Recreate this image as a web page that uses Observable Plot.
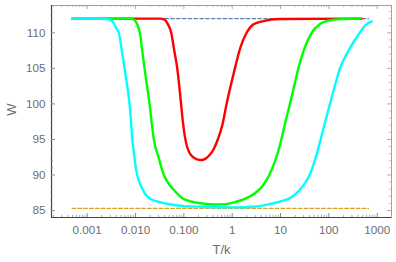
<!DOCTYPE html>
<html>
<head>
<meta charset="utf-8">
<script src="https://cdn.jsdelivr.net/npm/d3@7"></script>
<script src="https://cdn.jsdelivr.net/npm/@observablehq/plot@0.6"></script>
<style>
  html, body { margin: 0; padding: 0; background: #fff; }
</style>
</head>
<body>
<div id="chart"></div>
<script>
// ---- data ----
const cyanT = [0.000489, 0.001884, 0.002512, 0.003034, 0.003508, 0.004046, 0.004508, 0.005129, 0.005916, 0.00673,
  0.007516, 0.008072, 0.008551, 0.009226, 0.01, 0.01084, 0.01211, 0.01377, 0.01535, 0.01746,
  0.02143, 0.02812, 0.04178, 0.07295, 0.2218, 1.0, 3.199, 7.096, 10, 15.67,
  21.53, 29.38, 40.64, 53.83, 67.61, 76.91, 105.4, 132.4, 169.8, 271.6,
  434.5, 582.1, 769.1];
const cyanW = [112, 112, 111.95, 111.8, 111.4, 110.6, 110, 107.8, 105, 102.5,
  100, 97.5, 95, 93.2, 91.3, 90, 88.9, 88.1, 87.5, 87.0,
  86.55, 86.27, 86.0, 85.71, 85.53, 85.45, 85.57, 86.03, 86.3, 86.74,
  87.44, 88.5, 90.1, 92.5, 95, 96.5, 100, 102.5, 105, 107.8,
  110, 111.1, 111.6];

const greenT = [0.000489, 0.00787, 0.009528, 0.01099, 0.01227, 0.01377, 0.01535, 0.0173, 0.0195, 0.02143,
  0.02393, 0.02992, 0.03855, 0.04819, 0.06209, 0.09268, 0.1377, 0.2218, 0.4529, 0.7295,
  1.175, 1.986, 3.048, 4.406, 5.861, 7.551, 9.727, 12.16, 15.67, 19.14,
  23.39, 30.83, 44.06, 64.57, 105.4, 193.2, 455];
const greenW = [112, 112, 111.8, 111.1, 110, 107.5, 105, 102.5, 100, 97.5,
  95, 92.5, 90, 88.8, 87.9, 86.74, 86.3, 86.03, 85.85, 85.9,
  86.2, 86.74, 87.5, 88.6, 90, 91.8, 94.2, 97, 100, 102.5,
  105, 107.7, 110, 111.2, 111.75, 111.93, 112];

const redT = [0.000489, 0.03296, 0.03981, 0.04592, 0.05483, 0.06324, 0.07295, 0.08035, 0.0875, 0.09528,
  0.105, 0.1164, 0.1312, 0.1552, 0.1875, 0.2291, 0.2812, 0.3404, 0.4178, 0.5105,
  0.6237, 0.7656, 0.9268, 1.138, 1.459, 1.986, 2.773, 4.406, 9.572, 477.5];
const redW = [112, 112, 111.85, 111.3, 110, 107.5, 105, 102.5, 100, 97.5,
  95.4, 94.0, 93.1, 92.5, 92.2, 92.1, 92.3, 92.8, 93.7, 95.1,
  97.0, 100, 102.5, 105, 107.8, 110, 111.2, 111.65, 111.95, 112];

const dashT = [0.000489, 658];
const upperW = 112;
const lowerW = 85.3;

const xTicks = [0.001, 0.01, 0.1, 1, 10, 100, 1000];
const xTickLabels = ["0.001", "0.010", "0.100", "1", "10", "100", "1000"];
const yTicks = [85, 90, 95, 100, 105, 110];
const xLabel = "T/k";
const yLabel = "W";

// ---- layout ----
const W = 396, H = 262;
const mL = 51, mR = 5, mT = 5, mB = 45;
const innerW = W - mL - mR, innerH = H - mT - mB;
const xDomain = [0.0001825, 1977];
const yDomain = [84.02, 113.84];

const table = (T, Wv) => T.map((t, i) => ({T: t, W: Wv[i]}));
const cyan = table(cyanT, cyanW);
const green = table(greenT, greenW);
const red = table(redT, redW);
const upper = dashT.map(t => ({T: t, W: upperW}));
const lower = dashT.map(t => ({T: t, W: lowerW}));

// minor ticks (axis decoration)
const xMinor = [];
for (let e = -4; e <= 3; e++) for (let m = 2; m <= 9; m++) {
  const v = m * Math.pow(10, e);
  if (v > xDomain[0] && v < xDomain[1]) xMinor.push(v);
}
const yMinor = [];
for (let v = 85; v <= 113; v++) if (v % 5 !== 0) yMinor.push(v);

const tickColor = "#8a8a8a";
const major = 4, minor = 2.2;
const xFmt = d => xTickLabels[xTicks.findIndex(t => Math.abs(t - d) / t < 1e-6)];

const chart = Plot.plot({
  width: W, height: H,
  marginLeft: mL, marginRight: mR, marginTop: mT, marginBottom: mB,
  style: {background: "#fff", fontFamily: "'Liberation Sans', Arial, sans-serif"},
  x: {type: "log", domain: xDomain},
  y: {domain: yDomain},
  marks: [
    // frame
    Plot.frame({stroke: "#a0a0a0", strokeWidth: 1}),
    Plot.ruleX([xDomain[0]], {stroke: "#444", strokeWidth: 1.2}),
    Plot.ruleY([yDomain[0]], {stroke: "#444", strokeWidth: 1.2}),
    // inward ticks: bottom & top
    Plot.tickX(xTicks, {x: d => d, insetTop: innerH - major, stroke: tickColor}),
    Plot.tickX(xMinor, {x: d => d, insetTop: innerH - minor, stroke: tickColor, strokeOpacity: 0.7}),
    Plot.tickX(xTicks, {x: d => d, insetBottom: innerH - major, stroke: tickColor, strokeOpacity: 0.7}),
    Plot.tickX(xMinor, {x: d => d, insetBottom: innerH - minor, stroke: tickColor, strokeOpacity: 0.5}),
    // inward ticks: left & right
    Plot.tickY(yTicks, {y: d => d, insetRight: innerW - major, stroke: tickColor}),
    Plot.tickY(yMinor, {y: d => d, insetRight: innerW - minor, stroke: tickColor, strokeOpacity: 0.7}),
    Plot.tickY(yTicks, {y: d => d, insetLeft: innerW - major, stroke: tickColor, strokeOpacity: 0.7}),
    Plot.tickY(yMinor, {y: d => d, insetLeft: innerW - minor, stroke: tickColor, strokeOpacity: 0.5}),
    // tick labels and axis titles
    Plot.axisX({ticks: xTicks, tickFormat: xFmt, tickSize: 0, tickPadding: 8,
      fontSize: 11.7, color: "#6e6e6e", label: null}),
    Plot.axisY({ticks: yTicks, tickSize: 0, tickPadding: 6, fontSize: 11.7, color: "#6e6e6e", label: null}),
    Plot.text([xLabel], {text: d => d, frameAnchor: "bottom", lineAnchor: "middle", dy: 32,
      fontSize: 13, fill: "#6e6e6e"}),
    Plot.text([yLabel], {text: d => d, frameAnchor: "left", lineAnchor: "middle", textAnchor: "middle",
      rotate: -90, dx: -39.5, dy: -2, fontSize: 13, fill: "#6e6e6e"}),
    // reference dashed lines
    Plot.line(upper, {x: "T", y: "W", stroke: "#5E81B5", strokeWidth: 1.2, strokeDasharray: "3.6,2.2"}),
    Plot.line(lower, {x: "T", y: "W", stroke: "#E19C24", strokeWidth: 1.2, strokeDasharray: "3.6,2.2"}),
    // curves
    Plot.line(red, {x: "T", y: "W", stroke: "#FF0000", strokeWidth: 2.4, curve: "monotone-x"}),
    Plot.line(green, {x: "T", y: "W", stroke: "#00FF00", strokeWidth: 2.4, curve: "monotone-x"}),
    Plot.line(cyan, {x: "T", y: "W", stroke: "#00FFFF", strokeWidth: 2.4, curve: "monotone-x"})
  ]
});
document.getElementById("chart").appendChild(chart);
</script>
</body>
</html>
